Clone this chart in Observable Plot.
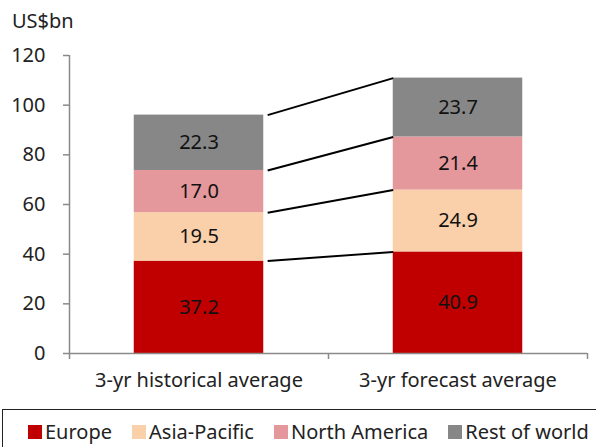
<!DOCTYPE html>
<html><head><meta charset="utf-8">
<script src="https://cdn.jsdelivr.net/npm/d3@7"></script>
<script src="https://cdn.jsdelivr.net/npm/@observablehq/plot@0.6"></script>
<style>
body{margin:0;background:#fff;font-family:"Noto Sans",sans-serif;}
#wrap{position:relative;width:596px;height:447px;overflow:hidden;}
#unit{position:absolute;left:12px;top:11px;font-size:20px;line-height:20px;color:#222;}
#chart{position:absolute;left:0;top:0;}
#legend{position:absolute;left:2px;top:409px;width:620px;height:60px;border:1px solid #222;box-sizing:border-box;display:flex;align-items:flex-start;padding-left:25px;padding-top:12px;font-size:20px;line-height:20px;color:#222;}
.item{display:flex;align-items:center;margin-right:20px;}
.sw{width:14px;height:14px;margin-right:3px;}
</style></head>
<body>
<div id="wrap">
  <div id="chart"></div>
  <div id="unit">US$bn</div>
  <div id="legend"></div>
</div>
<script>
const categories = ["3-yr historical average", "3-yr forecast average"];
const regions = ["Europe", "Asia-Pacific", "North America", "Rest of world"];
const regionColors = ["#C00000", "#F9D0A9", "#E4989B", "#878787"];
const historical = [37.2, 19.5, 17.0, 22.3];
const forecast = [40.9, 24.9, 21.4, 23.7];
const yTicks = [0, 20, 40, 60, 80, 100, 120];

const series = [historical, forecast];
const rows = [];
const tops = [];
series.forEach((vals, i) => {
  let acc = 0;
  const t = [];
  vals.forEach((v, j) => {
    rows.push({i, region: regions[j], value: v, y1: acc, y2: acc + v});
    acc += v;
    t.push(acc);
  });
  tops.push(t);
});
const links = regions.map((r, j) => ({y1: tops[0][j], y2: tops[1][j]}));

const half = 0.25;
const axisGray = "#8a8a8a";
const plot = Plot.plot({
  width: 596,
  height: 405,
  marginTop: 55,
  marginBottom: 52,
  marginLeft: 69,
  marginRight: 9,
  style: {fontFamily: "Noto Sans, sans-serif", fontSize: "20px", color: "#222", background: "transparent"},
  x: {type: "linear", domain: [-0.5, categories.length - 0.5]},
  y: {domain: [0, 120]},
  color: {domain: regions, range: regionColors},
  marks: [
    Plot.rectY(rows, {x1: d => d.i - half, x2: d => d.i + half, y1: "y1", y2: "y2", fill: "region"}),
    Plot.link(links, {x1: () => half + 0.015, x2: () => 1 - half, y1: "y1", y2: "y2", stroke: "#000", strokeWidth: 2}),
    Plot.text(rows, {x: "i", y: d => (d.y1 + d.y2) / 2, text: d => d.value.toFixed(1), fill: "#111", fontSize: 20}),
    Plot.ruleX([-0.5], {stroke: axisGray, strokeWidth: 1.5}),
    Plot.ruleY([0], {stroke: axisGray, strokeWidth: 1.5}),
    Plot.axisY({ticks: yTicks, tickSize: 6, tickPadding: 18, stroke: axisGray, strokeWidth: 1.5, fill: "#222", fontSize: 20, label: null}),
    Plot.axisX({ticks: [-0.5, 0.5, 1.5], tickSize: 6, tickFormat: () => "", stroke: axisGray, strokeWidth: 1.5, label: null}),
    Plot.axisX({ticks: categories.map((c, i) => i), tickSize: 0, tickPadding: 19, tickFormat: i => categories[i], fill: "#222", fontSize: 20, label: null})
  ]
});
document.getElementById("chart").appendChild(plot);

const legend = document.getElementById("legend");
regions.forEach((r, j) => {
  const it = document.createElement("div");
  it.className = "item";
  const sw = document.createElement("div");
  sw.className = "sw";
  sw.style.background = regionColors[j];
  const tx = document.createElement("span");
  tx.textContent = r;
  it.appendChild(sw);
  it.appendChild(tx);
  legend.appendChild(it);
});
</script>
</body></html>
